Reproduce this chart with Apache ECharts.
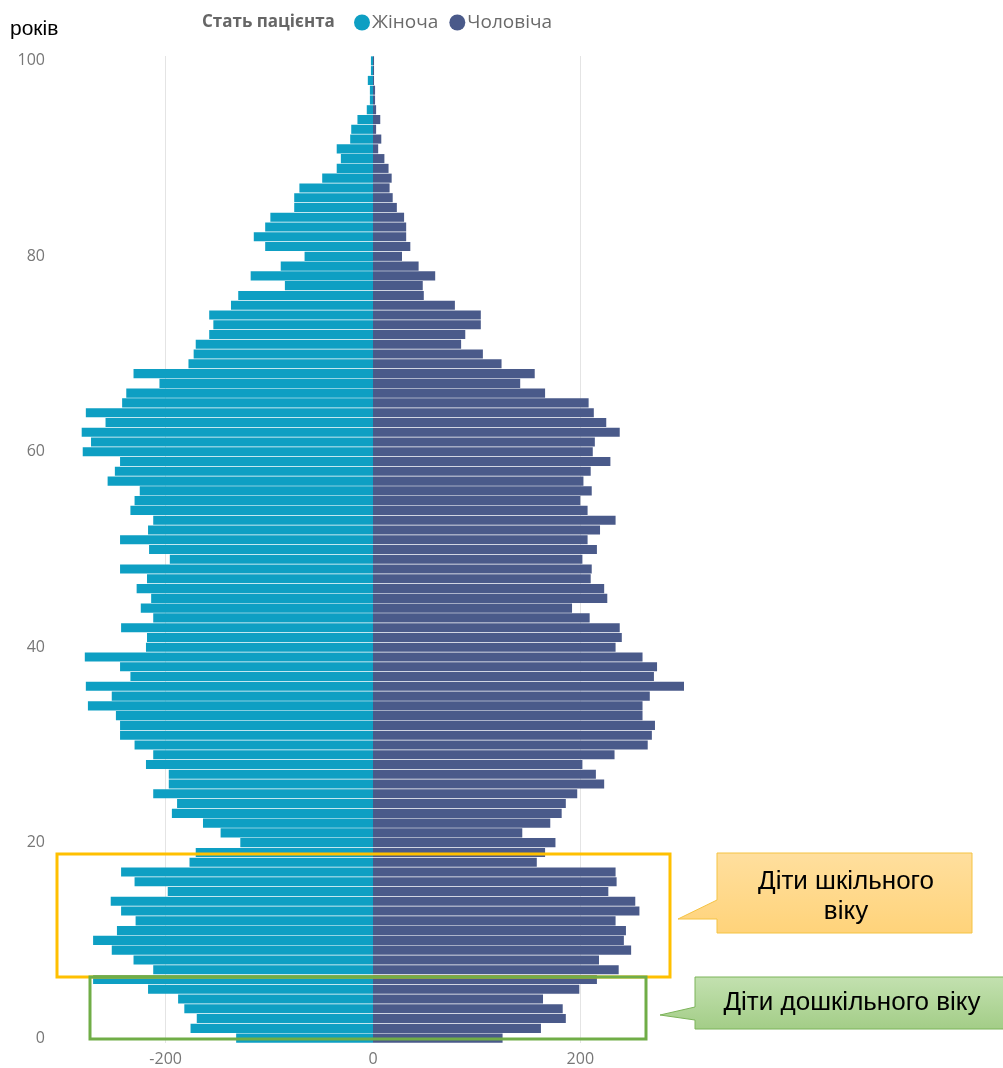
<!DOCTYPE html>
<html>
<head>
<meta charset="utf-8">
<script src="https://cdn.jsdelivr.net/npm/echarts@6/dist/echarts.min.js"></script>
<style>
html,body{margin:0;padding:0;background:#fff;}
#chart{width:1003px;height:1068px;}
</style>
</head>
<body>
<div id="chart"></div>
<script>
// Age categories (years)
const ages = ['0','1','2','3','4','5','6','7','8','9','10','11','12','13','14','15','16','17','18','19','20',
'21','22','23','24','25','26','27','28','29','30','31','32','33','34','35','36','37','38','39','40',
'41','42','43','44','45','46','47','48','49','50','51','52','53','54','55','56','57','58','59','60',
'61','62','63','64','65','66','67','68','69','70','71','72','73','74','75','76','77','78','79','80',
'81','82','83','84','85','86','87','88','89','90','91','92','93','94','95','96','97','98','99','100'];

// Female patients by age (drawn to the left)
const female = [132,176,170,182,188,217,270,212,231,252,270,247,229,243,253,198,230,243,177,171,128,
147,164,194,189,212,197,197,219,212,230,244,244,248,275,252,277,234,244,278,219,
218,243,212,224,214,228,218,244,196,216,244,217,212,234,230,225,256,249,244,280,
272,281,258,277,242,238,206,231,178,173,171,158,154,158,137,130,85,118,89,66,
104,115,104,99,76,76,71,49,35,31,35,22,21,15,6,3,3,5,2,2];

// Male patients by age (drawn to the right)
const male = [125,162,186,183,164,199,216,237,218,249,242,244,234,257,253,227,235,234,158,166,176,
144,171,182,186,197,223,215,202,233,265,269,272,260,260,267,311,271,274,260,234,
240,238,209,192,226,223,210,211,202,216,207,219,234,207,200,211,203,210,229,212,
214,238,225,213,208,166,142,156,124,106,85,89,104,104,79,49,48,60,44,28,
36,32,32,30,23,19,16,18,15,11,5,8,3,7,3,2,2,1,1,1];

const gridValues = [-200, 200];
const seriesNames = ['Жіноча', 'Чоловіча'];
const legendTitle = 'Стать пацієнта';
const axisName = 'років';
const schoolLabel = 'Діти шкільного\nвіку';
const preschoolLabel = 'Діти дошкільного віку';

const chart = echarts.init(document.getElementById('chart'), null, {renderer: 'canvas'});

const option = {
  backgroundColor: '#ffffff',
  animation: false,
  grid: {left: 62, right: 319, top: 56, bottom: 25},
  legend: {
    data: seriesNames,
    left: 354, top: 13,
    icon: 'circle', itemWidth: 16, itemHeight: 16, itemGap: 11,
    padding: 0,
    textStyle: {fontFamily: 'Open Sans', fontSize: 19, color: '#6a6a6a', padding: [0, 0, 0, -3]}
  },
  xAxis: {
    type: 'value', min: -300, max: 300,
    axisLine: {show: false}, axisTick: {show: false},
    splitLine: {show: false},
    axisLabel: {
      margin: 8, color: '#777777', fontSize: 16, fontFamily: 'Open Sans',
      formatter: function (v) { return (v % 200 === 0) ? String(v) : ''; }
    }
  },
  yAxis: {
    type: 'category', data: ages,
    axisLine: {show: false}, axisTick: {show: false},
    splitLine: {show: false},
    axisLabel: {interval: 19, margin: 17, color: '#777777', fontSize: 16, fontFamily: 'Open Sans'}
  },
  series: [
    {
      name: seriesNames[0], type: 'bar', z: 3,
      data: female.map(function (v) { return -v; }),
      barGap: '-100%', barCategoryGap: '7%',
      itemStyle: {color: '#0e9fc3'},
      markLine: {
        silent: true, symbol: 'none', z: 1,
        label: {show: false},
        lineStyle: {color: '#e4e4e4', width: 1, type: 'solid'},
        data: gridValues.map(function (g) { return {xAxis: g}; })
      }
    },
    {
      name: seriesNames[1], type: 'bar', z: 3,
      data: male,
      barGap: '-100%', barCategoryGap: '7%',
      itemStyle: {color: '#4a5a8a'}
    }
  ],
  graphic: [
    {type: 'text', left: 10, top: 19, style: {text: axisName, fontFamily: 'Liberation Sans', fontSize: 21, fill: '#000'}},
    {type: 'text', left: 202, top: 14, style: {text: legendTitle, fontFamily: 'Open Sans', fontWeight: 'bold', fontSize: 17, fill: '#666666'}},
    // school-age frame
    {type: 'rect', z: 100, shape: {x: 57, y: 854, width: 613, height: 123},
      style: {fill: 'none', stroke: '#ffc000', lineWidth: 3}},
    // preschool frame
    {type: 'rect', z: 100, shape: {x: 90, y: 977, width: 556, height: 62},
      style: {fill: 'none', stroke: '#70ad47', lineWidth: 3}},
    // callout 1
    {type: 'polygon', z: 100,
      shape: {points: [[717,853],[972,853],[972,933],[717,933],[717,919],[678,919],[717,900]]},
      style: {
        fill: new echarts.graphic.LinearGradient(0,0,0,1,[{offset:0,color:'#ffdf9e'},{offset:1,color:'#ffd37a'}]),
        stroke: '#f5c343', lineWidth: 1
      }},
    {type: 'text', z: 101, x: 846, y: 897,
      style: {text: schoolLabel, fontFamily: 'Liberation Sans', fontSize: 26, lineHeight: 30, fill: '#000',
        align: 'center', verticalAlign: 'middle'}},
    // callout 2
    {type: 'polygon', z: 100,
      shape: {points: [[695,977],[1010,977],[1010,1029],[695,1029],[695,1020],[660,1015],[695,1007]]},
      style: {
        fill: new echarts.graphic.LinearGradient(0,0,0,1,[{offset:0,color:'#c3e1b0'},{offset:1,color:'#a3cd87'}]),
        stroke: '#7db45a', lineWidth: 1
      }},
    {type: 'text', z: 101, x: 852, y: 1003,
      style: {text: preschoolLabel, fontFamily: 'Liberation Sans', fontSize: 26, fill: '#000',
        align: 'center', verticalAlign: 'middle'}}
  ]
};
chart.setOption(option);
</script>
</body>
</html>
